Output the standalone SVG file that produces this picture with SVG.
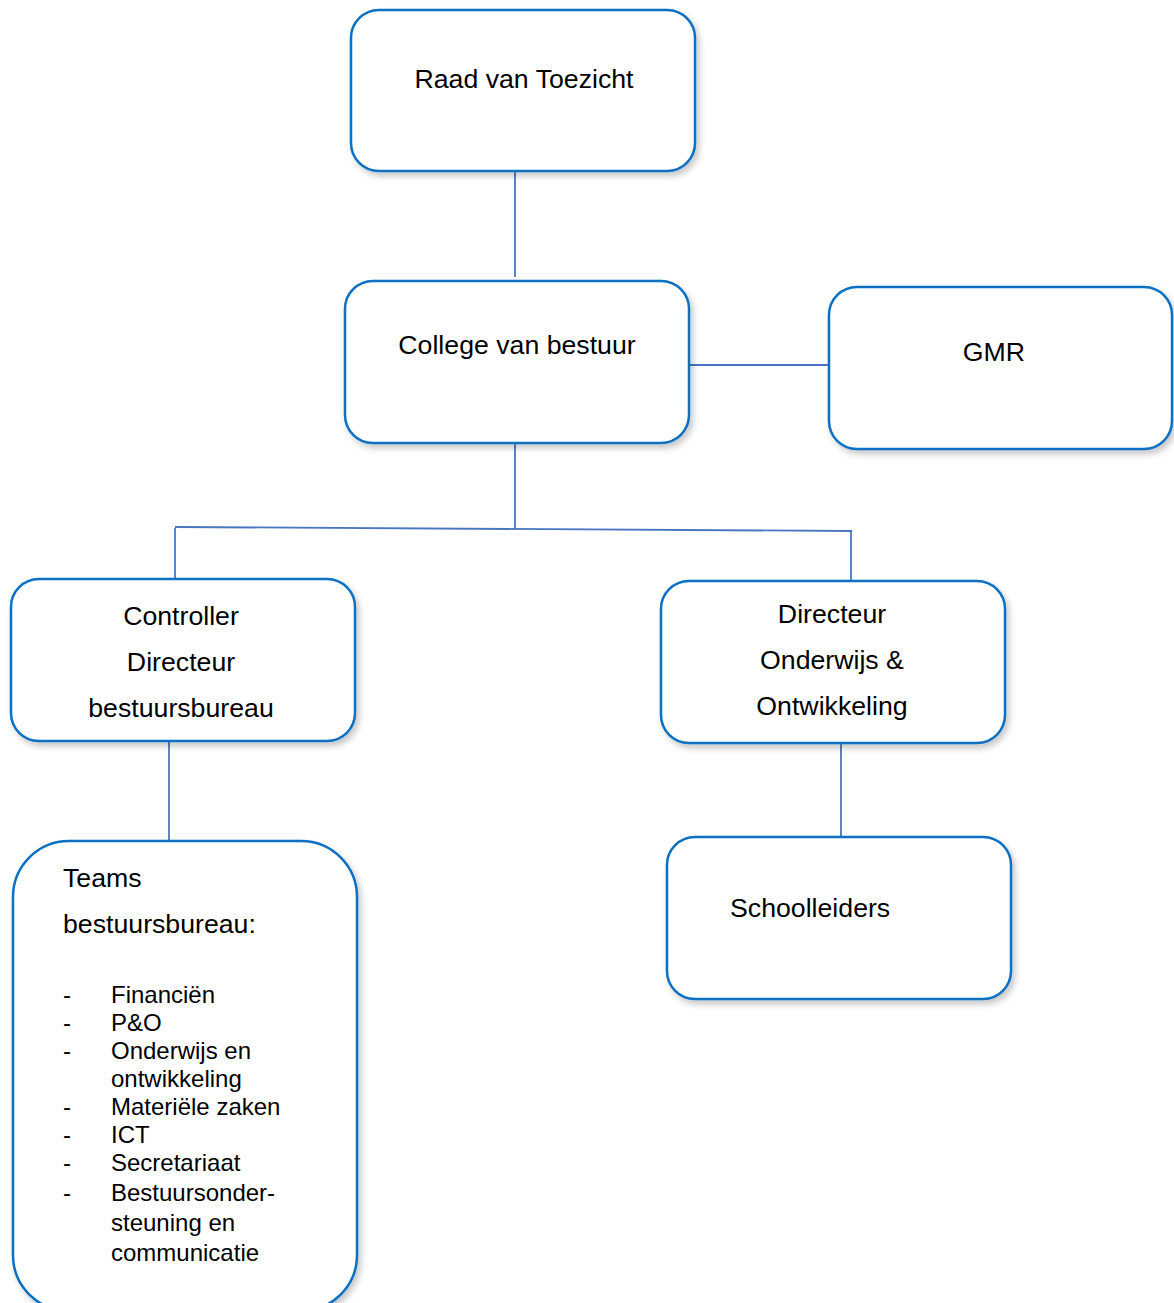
<svg xmlns="http://www.w3.org/2000/svg" width="1174" height="1303" viewBox="0 0 1174 1303">
  <defs>
    <filter id="sh" x="-10%" y="-10%" width="125%" height="125%">
      <feDropShadow dx="3" dy="4" stdDeviation="3" flood-color="#000" flood-opacity="0.22"/>
    </filter>
  </defs>
  <style>
    .box { fill: #ffffff; stroke: #0a70c2; stroke-width: 2.5; filter: url(#sh); }
    .conn { stroke: #4a76c0; stroke-width: 1.8; fill: none; }
    .lbl { font-family: "Liberation Sans", Arial, sans-serif; font-size: 26.7px; fill: #000; }
    .c { text-anchor: middle; }
    .li { font-family: "Liberation Sans", Arial, sans-serif; font-size: 24px; fill: #000; }
  </style>
  <rect width="1174" height="1303" fill="#ffffff"/>

  <g id="connectors">
    <line class="conn" x1="515" y1="171" x2="515" y2="277"/>
    <line class="conn" x1="689" y1="365" x2="829" y2="365"/>
    <line class="conn" x1="515" y1="443" x2="515" y2="530"/>
    <line class="conn" x1="175" y1="527" x2="852" y2="531"/>
    <line class="conn" x1="175" y1="528" x2="175" y2="579"/>
    <line class="conn" x1="851" y1="531" x2="851" y2="581"/>
    <line class="conn" x1="169" y1="741" x2="169" y2="841"/>
    <line class="conn" x1="841" y1="743" x2="841" y2="837"/>
  </g>

  <g id="raad">
    <rect class="box" x="351" y="10" width="344" height="161" rx="28"/>
    <text class="lbl c" x="524" y="88">Raad van Toezicht</text>
  </g>

  <g id="college">
    <rect class="box" x="345" y="281" width="344" height="162" rx="28"/>
    <text class="lbl c" x="517" y="354">College van bestuur</text>
  </g>

  <g id="gmr">
    <rect class="box" x="829" y="287" width="343" height="162" rx="28"/>
    <text class="lbl c" x="994" y="361">GMR</text>
  </g>

  <g id="controller">
    <rect class="box" x="11" y="579" width="344" height="162" rx="28"/>
    <text class="lbl c" x="181" y="625">Controller</text>
    <text class="lbl c" x="181" y="671">Directeur</text>
    <text class="lbl c" x="181" y="717">bestuursbureau</text>
  </g>

  <g id="directeur-oo">
    <rect class="box" x="661" y="581" width="344" height="162" rx="28"/>
    <text class="lbl c" x="832" y="623">Directeur</text>
    <text class="lbl c" x="832" y="669">Onderwijs &amp;</text>
    <text class="lbl c" x="832" y="715">Ontwikkeling</text>
  </g>

  <g id="schoolleiders">
    <rect class="box" x="667" y="837" width="344" height="162" rx="28"/>
    <text class="lbl" x="730" y="917">Schoolleiders</text>
  </g>

  <g id="teams">
    <rect class="box" x="13" y="841" width="344" height="470" rx="56"/>
    <text class="lbl" x="63" y="887">Teams</text>
    <text class="lbl" x="63" y="933">bestuursbureau:</text>
    <g class="li">
      <text x="63" y="1003">-</text><text x="111" y="1003">Financiën</text>
      <text x="63" y="1031">-</text><text x="111" y="1031">P&amp;O</text>
      <text x="63" y="1059">-</text><text x="111" y="1059">Onderwijs en</text>
      <text x="111" y="1087">ontwikkeling</text>
      <text x="63" y="1115">-</text><text x="111" y="1115">Materiële zaken</text>
      <text x="63" y="1143">-</text><text x="111" y="1143">ICT</text>
      <text x="63" y="1171">-</text><text x="111" y="1171">Secretariaat</text>
      <text x="63" y="1201">-</text><text x="111" y="1201">Bestuursonder-</text>
      <text x="111" y="1231">steuning en</text>
      <text x="111" y="1261">communicatie</text>
    </g>
  </g>
</svg>
